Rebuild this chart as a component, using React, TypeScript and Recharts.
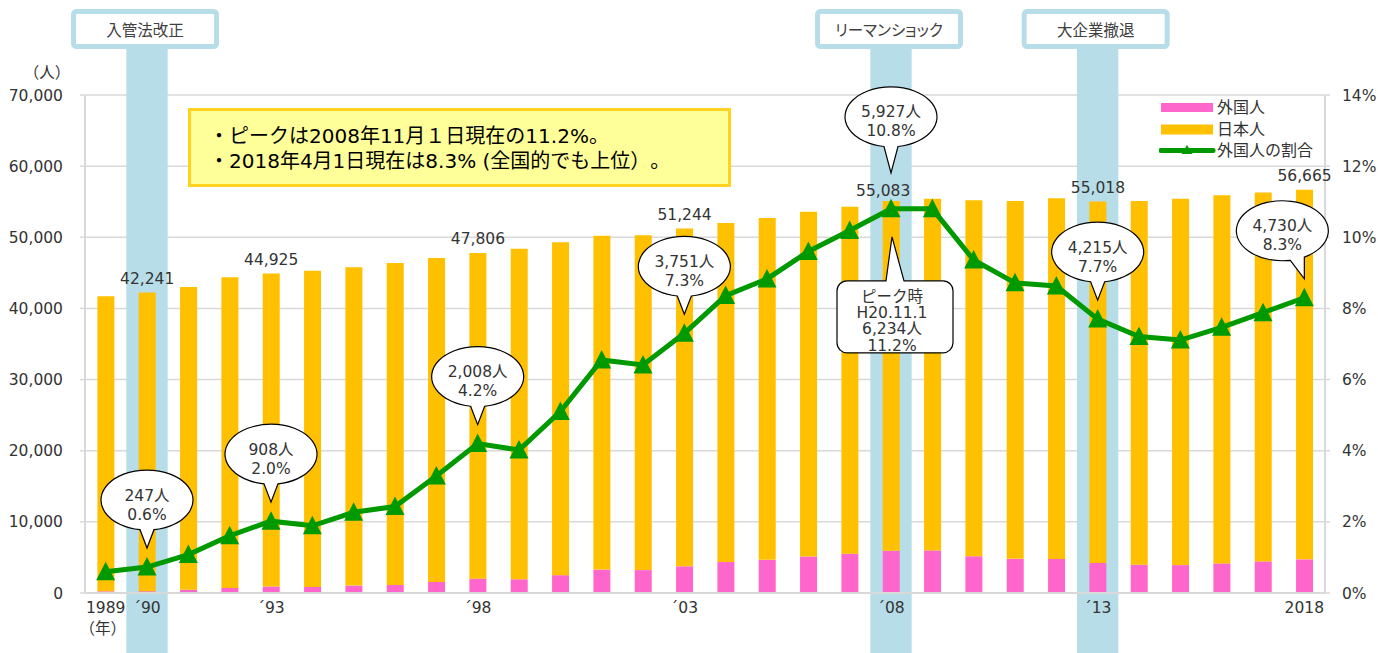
import React from 'react';
import {
  ComposedChart,
  Bar,
  Line,
  XAxis,
  YAxis,
  CartesianGrid,
  ReferenceArea,
  LabelList,
  Legend,
} from 'recharts';

// ---------------- data ----------------
const years = [
  '1989', '1990', '1991', '1992', '1993', '1994', '1995', '1996', '1997', '1998',
  '1999', '2000', '2001', '2002', '2003', '2004', '2005', '2006', '2007', '2008',
  '2009', '2010', '2011', '2012', '2013', '2014', '2015', '2016', '2017', '2018',
];
// total population (人)
const totals = [
  41700, 42241, 43000, 44400, 44925, 45300, 45800, 46400, 47100, 47806,
  48400, 49300, 50200, 50300, 51244, 52000, 52700, 53600, 54300, 55083,
  55400, 55200, 55100, 55500, 55018, 55100, 55400, 55900, 56300, 56665,
];
// foreign residents (人)
const foreignCounts = [
  230, 247, 440, 700, 908, 850, 1040, 1130, 1550, 2008,
  1950, 2510, 3290, 3220, 3751, 4350, 4660, 5140, 5530, 5927,
  5980, 5170, 4800, 4790, 4215, 3970, 3920, 4160, 4440, 4730,
];
// share of foreign residents (%)
const foreignRatio = [
  0.6, 0.73, 1.08, 1.61, 2.02, 1.89, 2.27, 2.43, 3.29, 4.2,
  4.02, 5.1, 6.55, 6.41, 7.3, 8.36, 8.83, 9.6, 10.19, 10.8,
  10.8, 9.36, 8.72, 8.63, 7.7, 7.21, 7.11, 7.47, 7.88, 8.3,
];

const tickYears = ['1989', '1990', '1993', '1998', '2003', '2008', '2013', '2018'];
const tickTexts = ['1989', '´90', '´93', '´98', '´03', '´08', '´13', '2018'];
const leftTicks = [0, 10000, 20000, 30000, 40000, 50000, 60000, 70000];
const rightTicks = [0, 2, 4, 6, 8, 10, 12, 14];

const eventYears = ['1990', '2008', '2013'];
const eventNames = ['入管法改正', 'リーマンショック', '大企業撤退'];

const totalLabelYears = ['1990', '1993', '1998', '2003', '2008', '2013', '2018'];
const calloutYears = ['1990', '1993', '1998', '2003', '2008', '2013', '2018'];
const calloutRatioLabels = [0.6, 2.0, 4.2, 7.3, 10.8, 7.7, 8.3];

const peakYear = '2008';
const peakTitle = 'ピーク時';
const peakDate = 'H20.11.1';
const peakCount = 6234;
const peakRatio = 11.2;

const noteLines = [
  '・ピークは2008年11月１日現在の11.2%。',
  '・2018年4月1日現在は8.3% (全国的でも上位）。',
];

const legendNames = ['外国人', '日本人', '外国人の割合'];

const data = years.map((year, i) => ({
  year,
  total: totals[i],
  foreign: foreignCounts[i],
  japanese: totals[i] - foreignCounts[i],
  ratio: foreignRatio[i],
}));

// ---------------- styles ----------------
const FONT = "'DejaVu Sans', 'Noto Sans CJK JP', sans-serif";
const TEXT = '#333333';
const GRID = '#d9d9d9';
const PINK = '#ff66cc';
const YELLOW = '#ffc000';
const GREEN = '#009900';
const BAND = '#b7dde8';

// per-callout layout tweaks (pixels)
const calloutLayout: Record<string, { gap?: number; tail?: number; dx?: number; shift?: number }> = {
  '2008': { gap: 36, tail: 26 },
  '2018': { dx: -22, shift: -7 },
};
const totalLabelLayout: Record<string, { dx?: number; dy?: number }> = {
  '2008': { dx: -8, dy: -5.5 },
};

const fmt = (v: number) => v.toLocaleString('en-US');

// ---------------- renderers ----------------
function eventShape(name: string) {
  return (p: any) => {
    const cx = p.x + p.width / 2 - 2;
    return (
      <g>
        <rect x={p.x} y={48} width={p.width} height={605} fill={BAND} />
        <rect x={cx - 71.5} y={11.5} width={143} height={35} rx={3} fill="#ffffff" stroke={BAND} strokeWidth={5} />
        <text
          x={cx}
          y={35.5}
          textAnchor="middle"
          fontSize={15.5}
          fill="#404040"
          fontFamily={FONT}
          style={{ fontFeatureSettings: '"palt"' }}
        >
          {name}
        </text>
      </g>
    );
  };
}

const renderTriangle = (p: any) => {
  const { cx, cy, index } = p;
  if (cx == null || cy == null) return <g key={`t-${index}`} />;
  return (
    <polygon
      key={`t-${index}`}
      points={`${cx},${cy - 10} ${cx - 9.5},${cy + 8.5} ${cx + 9.5},${cy + 8.5}`}
      fill={GREEN}
    />
  );
};

const renderCallout = (p: any) => {
  const index = p.index;
  const x = p.viewBox?.x ?? p.x;
  const y = p.viewBox?.y ?? p.y;
  const year = years[index];
  const parts: React.ReactNode[] = [];
  const ci = calloutYears.indexOf(year);
  if (ci >= 0) {
    const st = calloutLayout[year] || {};
    const gap = st.gap ?? 19;
    const tail = st.tail ?? 18;
    const dx = st.dx ?? 0;
    const shift = st.shift ?? 0;
    const rx = 46;
    const ry = 30;
    const tipX = x;
    const tipY = y - gap;
    const cx = x + dx;
    const cy = tipY - tail - ry + 1;
    const onEllipse = (bx: number) => cy + ry * Math.sqrt(Math.max(0, 1 - ((bx - cx) / rx) ** 2));
    const bl = tipX - 7 + shift;
    const br = tipX + 7 + shift;
    const d = `M ${bl} ${onEllipse(bl) - 1} A ${rx} ${ry} 0 1 1 ${br} ${onEllipse(br) - 1} L ${tipX} ${tipY} Z`;
    parts.push(
      <g key="c">
        <path d={d} fill="#ffffff" stroke="#000000" strokeWidth={1.2} strokeLinejoin="miter" />
        <text x={cx} y={cy - 0.5} textAnchor="middle" fontSize={15.5} fill={TEXT} fontFamily={FONT}>
          {`${fmt(foreignCounts[index])}人`}
        </text>
        <text x={cx} y={cy + 18.5} textAnchor="middle" fontSize={15.5} fill={TEXT} fontFamily={FONT}>
          {`${calloutRatioLabels[ci].toFixed(1)}%`}
        </text>
      </g>
    );
  }
  if (year === peakYear) {
    const tipX = x + 1;
    const tipY = y + 28;
    const T = y + 72;
    const B = T + 72;
    const L = x - 54;
    const R = x + 62;
    const r = 10;
    const d = [
      `M ${L + r} ${T}`,
      `L ${x - 5} ${T}`,
      `L ${tipX} ${tipY}`,
      `L ${x + 13} ${T}`,
      `L ${R - r} ${T}`,
      `A ${r} ${r} 0 0 1 ${R} ${T + r}`,
      `L ${R} ${B - r}`,
      `A ${r} ${r} 0 0 1 ${R - r} ${B}`,
      `L ${L + r} ${B}`,
      `A ${r} ${r} 0 0 1 ${L} ${B - r}`,
      `L ${L} ${T + r}`,
      `A ${r} ${r} 0 0 1 ${L + r} ${T}`,
      'Z',
    ].join(' ');
    const lines = [peakTitle, peakDate, `${fmt(peakCount)}人`, `${peakRatio.toFixed(1)}%`];
    parts.push(
      <g key="p">
        <path d={d} fill="#ffffff" stroke="#000000" strokeWidth={1.2} />
        {lines.map((t, k) => (
          <text
            key={k}
            x={x + 1}
            y={T + 21 + k * 16.3}
            textAnchor="middle"
            fontSize={15.5}
            fill={TEXT}
            fontFamily={FONT}
          >
            {t}
          </text>
        ))}
      </g>
    );
  }
  if (!parts.length) return <g />;
  return <g>{parts}</g>;
};

const renderTotalLabel = (p: any) => {
  const index = p.index;
  const year = years[index];
  if (!totalLabelYears.includes(year)) return <g />;
  const bx = p.viewBox?.x ?? p.x;
  const by = p.viewBox?.y ?? p.y;
  const bw = p.viewBox?.width ?? p.width;
  const st = totalLabelLayout[year] || {};
  return (
    <text
      x={bx + bw / 2 + (st.dx ?? 0)}
      y={by + (st.dy ?? -8.5)}
      textAnchor="middle"
      fontSize={15.5}
      fill={TEXT}
      fontFamily={FONT}
    >
      {fmt(totals[index])}
    </text>
  );
};

const renderXTick = (p: any) => {
  const v = p.payload?.value;
  const i = tickYears.indexOf(v);
  if (i < 0) return <g />;
  return (
    <g>
      <text x={p.x} y={613} textAnchor="middle" fontSize={15.5} fill={TEXT} fontFamily={FONT}>
        {tickTexts[i]}
      </text>
      {i === 0 && (
        <text x={p.x - 3} y={634} textAnchor="middle" fontSize={15.5} fill={TEXT} fontFamily={FONT}>
          （年）
        </text>
      )}
    </g>
  );
};

const renderUnit = () => (
  <text x={47} y={78} textAnchor="middle" fontSize={15.5} fill={TEXT} fontFamily={FONT}>
    （人）
  </text>
);

const LegendBox = () => (
  <div style={{ fontFamily: FONT, fontSize: 16, color: TEXT }}>
    {legendNames.map((name, i) => (
      <div key={name} style={{ display: 'flex', alignItems: 'center', height: 21.5 }}>
        <svg width={58} height={21} style={{ display: 'block', flex: 'none' }}>
          {i === 0 && <rect x={2} y={6} width={52} height={9} fill={PINK} />}
          {i === 1 && <rect x={2} y={5.5} width={52} height={10} fill={YELLOW} />}
          {i === 2 && (
            <g>
              <line x1={2} y1={10.5} x2={54} y2={10.5} stroke={GREEN} strokeWidth={5} strokeLinecap="round" />
              <polygon points="28,5 22.5,14 33.5,14" fill={GREEN} />
            </g>
          )}
        </svg>
        <span style={{ lineHeight: '21px', whiteSpace: 'nowrap' }}>{name}</span>
      </div>
    ))}
  </div>
);

export default function App() {
  return (
    <div
      style={{
        position: 'absolute',
        left: 0,
        top: 0,
        width: 1378,
        height: 653,
        background: '#ffffff',
        fontFamily: FONT,
        overflow: 'hidden',
      }}
    >
      <ComposedChart
        width={1378}
        height={653}
        data={data}
        margin={{ top: 95, right: 0, bottom: 0, left: 0 }}
        barCategoryGap="30%"
      >
        <CartesianGrid yAxisId="left" vertical={false} stroke={GRID} strokeWidth={1.5} />
        {eventYears.map((yr, i) => (
          <ReferenceArea
            key={yr}
            yAxisId="left"
            x1={yr}
            x2={yr}
            ifOverflow="visible"
            shape={eventShape(eventNames[i])}
          />
        ))}
        <XAxis
          dataKey="year"
          height={60}
          interval={0}
          tickLine={false}
          tickSize={0}
          tickMargin={0}
          axisLine={{ stroke: GRID, strokeWidth: 2 }}
          tick={renderXTick}
        />
        <YAxis
          yAxisId="left"
          width={85}
          domain={[0, 70000]}
          ticks={leftTicks}
          tickFormatter={(v: number) => fmt(v)}
          tick={{ fill: TEXT, fontSize: 15.5, fontFamily: FONT }}
          tickSize={5}
          tickMargin={17}
          tickLine={{ stroke: GRID, strokeWidth: 1.5 }}
          axisLine={{ stroke: GRID, strokeWidth: 2 }}
          label={renderUnit}
          allowDataOverflow
        />
        <YAxis
          yAxisId="right"
          orientation="right"
          width={53}
          domain={[0, 14]}
          ticks={rightTicks}
          tickFormatter={(v: number) => `${v}%`}
          tick={{ fill: TEXT, fontSize: 15.5, fontFamily: FONT }}
          tickSize={5}
          tickMargin={12}
          tickLine={{ stroke: GRID, strokeWidth: 1.5 }}
          axisLine={{ stroke: GRID, strokeWidth: 2 }}
          allowDataOverflow
        />
        <Bar yAxisId="left" dataKey="foreign" stackId="pop" fill={PINK} isAnimationActive={false} />
        <Bar yAxisId="left" dataKey="japanese" stackId="pop" fill={YELLOW} isAnimationActive={false}>
          <LabelList dataKey="total" content={renderTotalLabel} />
        </Bar>
        <Line
          yAxisId="right"
          dataKey="ratio"
          stroke={GREEN}
          strokeWidth={5}
          dot={renderTriangle}
          activeDot={false}
          isAnimationActive={false}
        >
          <LabelList dataKey="ratio" content={renderCallout} />
        </Line>
        <Legend
          layout="vertical"
          verticalAlign="middle"
          align="center"
          wrapperStyle={{ left: 1159, top: 97, width: 170, margin: 0 }}
          content={() => <LegendBox />}
        />
      </ComposedChart>
      <div
        style={{
          position: 'absolute',
          left: 188,
          top: 108,
          width: 543,
          height: 79,
          boxSizing: 'border-box',
          background: '#ffff99',
          border: '3px solid #ffd21f',
          paddingLeft: 18,
          paddingTop: 13,
          fontFamily: FONT,
          fontSize: 20,
          lineHeight: '25px',
          color: '#000000',
          whiteSpace: 'nowrap',
          textSpacingTrim: 'space-all',
        } as React.CSSProperties}
      >
        {noteLines.map((t) => (
          <div key={t}>{t}</div>
        ))}
      </div>
    </div>
  );
}
